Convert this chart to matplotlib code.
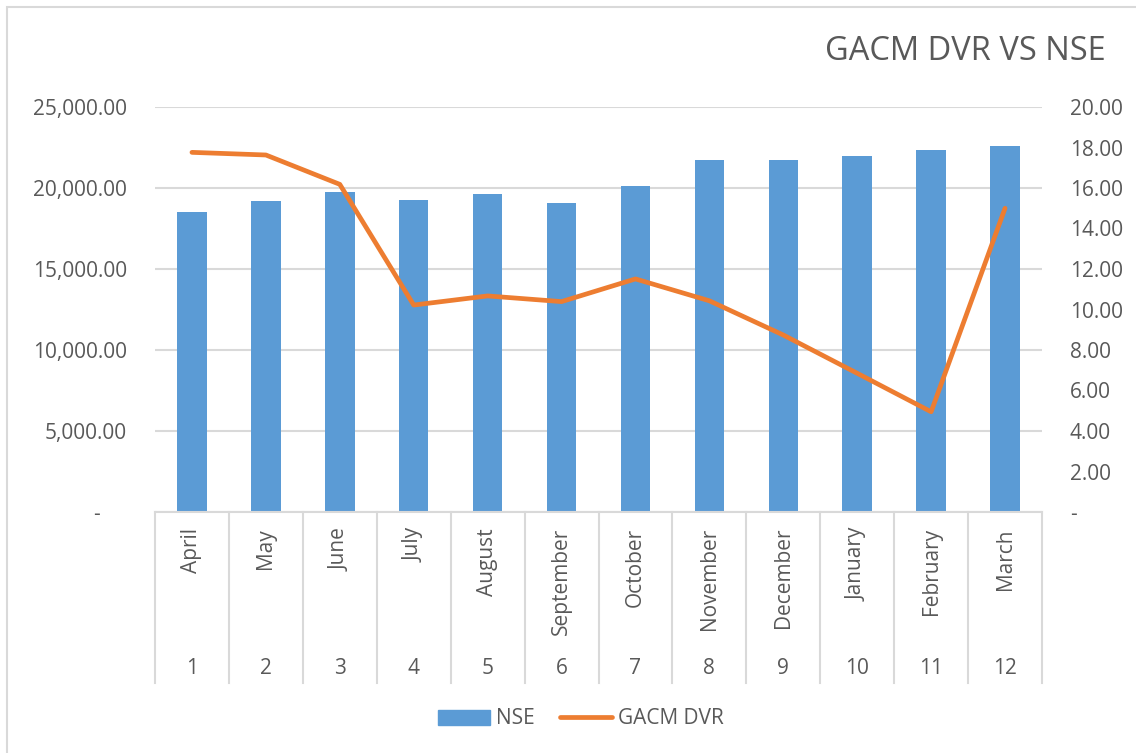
import matplotlib.pyplot as plt
from matplotlib.lines import Line2D
from matplotlib.patches import Patch, Rectangle

plt.rcParams['font.family'] = ['Open Sans', 'DejaVu Sans']

# data
months = ["April", "May", "June", "July", "August", "September",
          "October", "November", "December", "January", "February", "March"]
month_nums = ["1", "2", "3", "4", "5", "6", "7", "8", "9", "10", "11", "12"]
nse = [18520, 19200, 19750, 19260, 19630, 19070,
       20120, 21730, 21730, 21980, 22330, 22600]
gacm_dvr = [17.76, 17.63, 16.18, 10.22, 10.67, 10.39,
            11.51, 10.43, 8.74, 6.85, 4.95, 15.0]

blue = '#5B9BD5'
orange = '#ED7D31'
grid_c = '#D9D9D9'
txt_c = '#595959'
fs = 15

fig = plt.figure(figsize=(11.36, 7.53), dpi=100)
ax1 = fig.add_axes([155/1136, 1 - 512/753, (1042-155)/1136, (512-107)/753])
x = list(range(len(months)))

# --- bars (left axis) ---
ax1.bar(x, nse, width=0.4, color=blue, zorder=2, label="NSE")
ax1.set_ylim(0, 25000)
ax1.set_xlim(-0.5, len(months) - 0.5)
ax1.set_yticks(range(0, 25001, 5000))
ax1.set_yticklabels(["-     "] + [f"{v:,.2f}" for v in range(5000, 25001, 5000)])
ax1.yaxis.grid(True, color=grid_c, lw=1.5, zorder=0)
ax1.set_axisbelow(True)
ax1.tick_params(axis='y', length=0, pad=20, labelsize=fs, labelcolor=txt_c)
ax1.set_xticks([])
for s in ['top', 'left', 'right']:
    ax1.spines[s].set_visible(False)
ax1.spines['bottom'].set_color(grid_c)
ax1.spines['bottom'].set_linewidth(1.5)

# --- line (right axis) ---
ax2 = ax1.twinx()
ax2.plot(x, gacm_dvr, color=orange, lw=3.4, solid_capstyle='round', zorder=3, label="GACM DVR")
ax2.set_ylim(0, 20)
ax2.set_yticks(range(0, 21, 2))
ax2.set_yticklabels(["-"] + [f"{v:.2f}" for v in range(2, 21, 2)])
ax2.tick_params(axis='y', length=0, pad=20, labelsize=fs, labelcolor=txt_c)
for s in ax2.spines.values():
    s.set_visible(False)

# --- multi-level category axis ---
trans = ax1.get_xaxis_transform()
for i, (m, n) in enumerate(zip(months, month_nums)):
    ax1.text(i, -16/405, m, transform=trans, rotation=90, ha='center', va='top',
             fontsize=fs, color=txt_c)
    ax1.text(i, -156/405, n, transform=trans, ha='center', va='center',
             fontsize=fs, color=txt_c)
for i in range(len(months) + 1):
    ax1.add_line(Line2D([i - 0.5, i - 0.5], [0, -171/405], transform=trans,
                        color=grid_c, lw=1.5, clip_on=False))

# title
fig.text(1106/1136, 1 - 52/753, "GACM DVR VS NSE", ha='right', va='center',
         fontsize=23.5, color=txt_c)

# legend
handles = [Patch(color=blue, label="NSE"),
           Line2D([0], [0], color=orange, lw=3.4, solid_capstyle='round', label="GACM DVR")]
fig.legend(handles=handles, loc='center', bbox_to_anchor=(581/1136, 1 - 719/753),
           ncol=2, frameon=False, fontsize=fs, labelcolor=txt_c,
           handlelength=2.5, handletextpad=0.3, columnspacing=1.2)

# chart border
fig.patches.append(Rectangle((7/1136, -0.01), 1.0, 1 - 7/753 + 0.01, transform=fig.transFigure,
                             fill=False, edgecolor=grid_c, lw=1.5))

fig.savefig("out.png", dpi=100)
